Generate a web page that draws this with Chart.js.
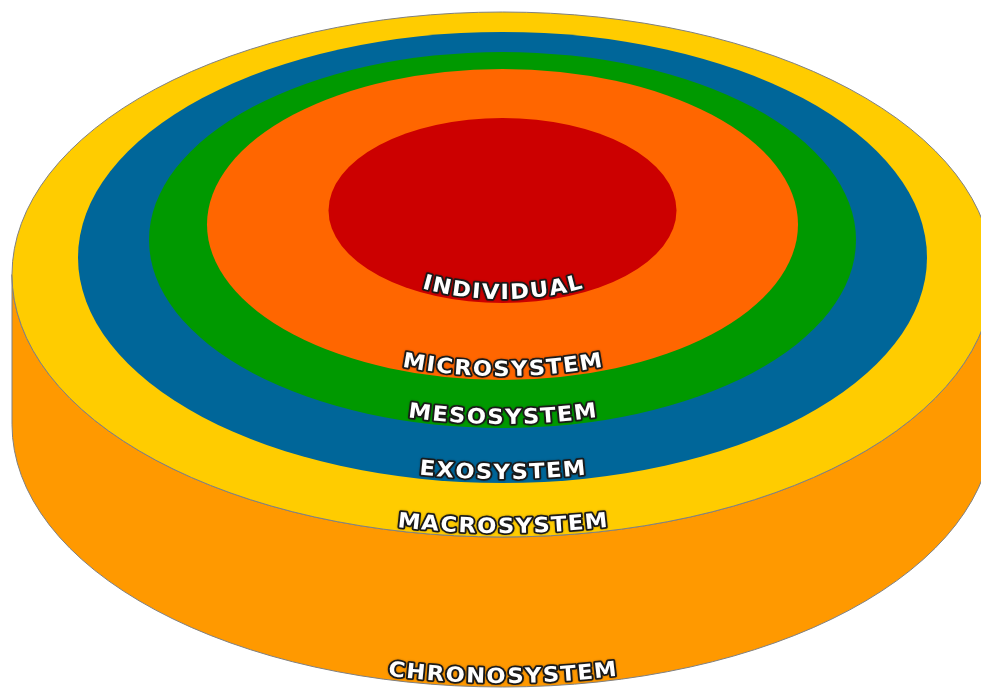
<!DOCTYPE html>
<html>
<head>
<meta charset="utf-8">
<script src="https://cdn.jsdelivr.net/npm/chart.js@4.4.1/dist/chart.umd.min.js"></script>
<style>
  html, body { margin: 0; padding: 0; background: #fff; }
  #wrap { width: 981px; height: 689px; }
</style>
</head>
<body>
<div id="wrap"><canvas id="chart"></canvas></div>
<script>
// rings of the top face, outermost first (chart units)
const systems = ['MACROSYSTEM', 'EXOSYSTEM', 'MESOSYSTEM', 'MICROSYSTEM', 'INDIVIDUAL'];
const ringRadiusX = [490.5, 424.5, 353.5, 295.5, 174];
const ringRadiusY = [262.5, 225.5, 188, 155.5, 92.5];
const ringCenterY = [274.5, 257.5, 240, 224.5, 210.5];
const ringCenterX = [502.5, 502.5, 502.5, 502.5, 502.5];
// the side of the cylinder
const baseLabel = 'CHRONOSYSTEM';
const baseDepth = 150;

const ringColors = ['#ffcc00', '#006699', '#009900', '#ff6600', '#cc0000'];
const sideColor = '#ff9900';
const edgeColor = '#808080';

function arcText(ctx, text, cx, cy, a, b) {
  ctx.save();
  ctx.font = 'bold 21px "DejaVu Sans"';
  ctx.textAlign = 'center';
  ctx.textBaseline = 'alphabetic';
  ctx.lineJoin = 'round';
  const gap = 1.5;
  const stretch = 1.08;
  const widths = [...text].map(c => ctx.measureText(c).width * stretch);
  const total = widths.reduce((s, w) => s + w, 0) + gap * (widths.length - 1);
  // walk along the bottom of the ellipse by arc length
  const thetaAt = s => {
    const dir = Math.sign(s), target = Math.abs(s);
    let t = 0, len = 0;
    const dt = 0.0005;
    while (len < target) {
      len += Math.hypot(a * Math.cos(t), b * Math.sin(t)) * dt;
      t += dt;
    }
    return dir * t;
  };
  let s = -total / 2;
  [...text].forEach((c, i) => {
    const mid = s + widths[i] / 2;
    const t = thetaAt(mid);
    const x = cx + a * Math.sin(t);
    const y = cy + b * Math.cos(t);
    const ang = Math.atan2(-b * Math.sin(t), a * Math.cos(t));
    ctx.save();
    ctx.translate(x, y);
    ctx.rotate(ang);
    ctx.scale(stretch, 1);
    ctx.shadowColor = 'rgba(0,0,0,0.35)';
    ctx.shadowBlur = 2;
    ctx.lineWidth = 3.5;
    ctx.strokeStyle = '#1a1a1a';
    ctx.strokeText(c, 0, 0);
    ctx.shadowColor = 'transparent';
    ctx.fillStyle = '#ffffff';
    ctx.fillText(c, 0, 0);
    ctx.restore();
    s += widths[i] + gap;
  });
  ctx.restore();
}

const rings = {
  id: 'rings',
  beforeDatasetsDraw(chart) {
    const ctx = chart.ctx;
    const xs = chart.scales.x, ys = chart.scales.y;
    const w = v => Math.abs(xs.getPixelForValue(v) - xs.getPixelForValue(0));
    const h = v => Math.abs(ys.getPixelForValue(v) - ys.getPixelForValue(0));
    const pts = chart.data.datasets.map(d => ({
      x: xs.getPixelForValue(d.data[0].x),
      y: ys.getPixelForValue(d.data[0].y),
      rx: w(d.rx), ry: h(d.ry)
    }));
    const o = pts[0];
    const depth = h(baseDepth);

    ctx.save();
    // cylinder side
    ctx.beginPath();
    ctx.moveTo(o.x - o.rx, o.y);
    ctx.lineTo(o.x - o.rx, o.y + depth);
    ctx.ellipse(o.x, o.y + depth, o.rx, o.ry, 0, Math.PI, 0, true);
    ctx.lineTo(o.x + o.rx, o.y);
    ctx.ellipse(o.x, o.y, o.rx, o.ry, 0, 0, Math.PI, false);
    ctx.closePath();
    ctx.fillStyle = sideColor;
    ctx.fill();
    ctx.lineWidth = 1;
    ctx.strokeStyle = edgeColor;
    ctx.stroke();

    // top face rings
    pts.forEach((p, i) => {
      ctx.beginPath();
      ctx.ellipse(p.x, p.y, p.rx, p.ry, 0, 0, Math.PI * 2);
      ctx.fillStyle = ringColors[i];
      ctx.fill();
      if (i === 0) {
        ctx.lineWidth = 1;
        ctx.strokeStyle = edgeColor;
        ctx.stroke();
      }
    });
    ctx.restore();

    // labels along the bottom edge of each ring
    pts.forEach((p, i) => {
      arcText(ctx, chart.data.datasets[i].label, p.x, p.y, p.rx - 6, p.ry - 4);
    });
    arcText(ctx, baseLabel, o.x, o.y + depth, o.rx - 6, o.ry - 4);
  }
};

new Chart(document.getElementById('chart'), {
  type: 'scatter',
  data: {
    datasets: systems.map((name, i) => ({
      label: name,
      data: [{ x: ringCenterX[i], y: ringCenterY[i] }],
      rx: ringRadiusX[i],
      ry: ringRadiusY[i],
      pointRadius: 0
    }))
  },
  options: {
    responsive: true,
    maintainAspectRatio: false,
    animation: false,
    layout: { padding: 0 },
    plugins: { legend: { display: false }, tooltip: { enabled: false } },
    scales: {
      x: { type: 'linear', min: 0, max: 981, display: false },
      y: { type: 'linear', min: 0, max: 689, reverse: true, display: false }
    }
  },
  plugins: [rings]
});
</script>
</body>
</html>
